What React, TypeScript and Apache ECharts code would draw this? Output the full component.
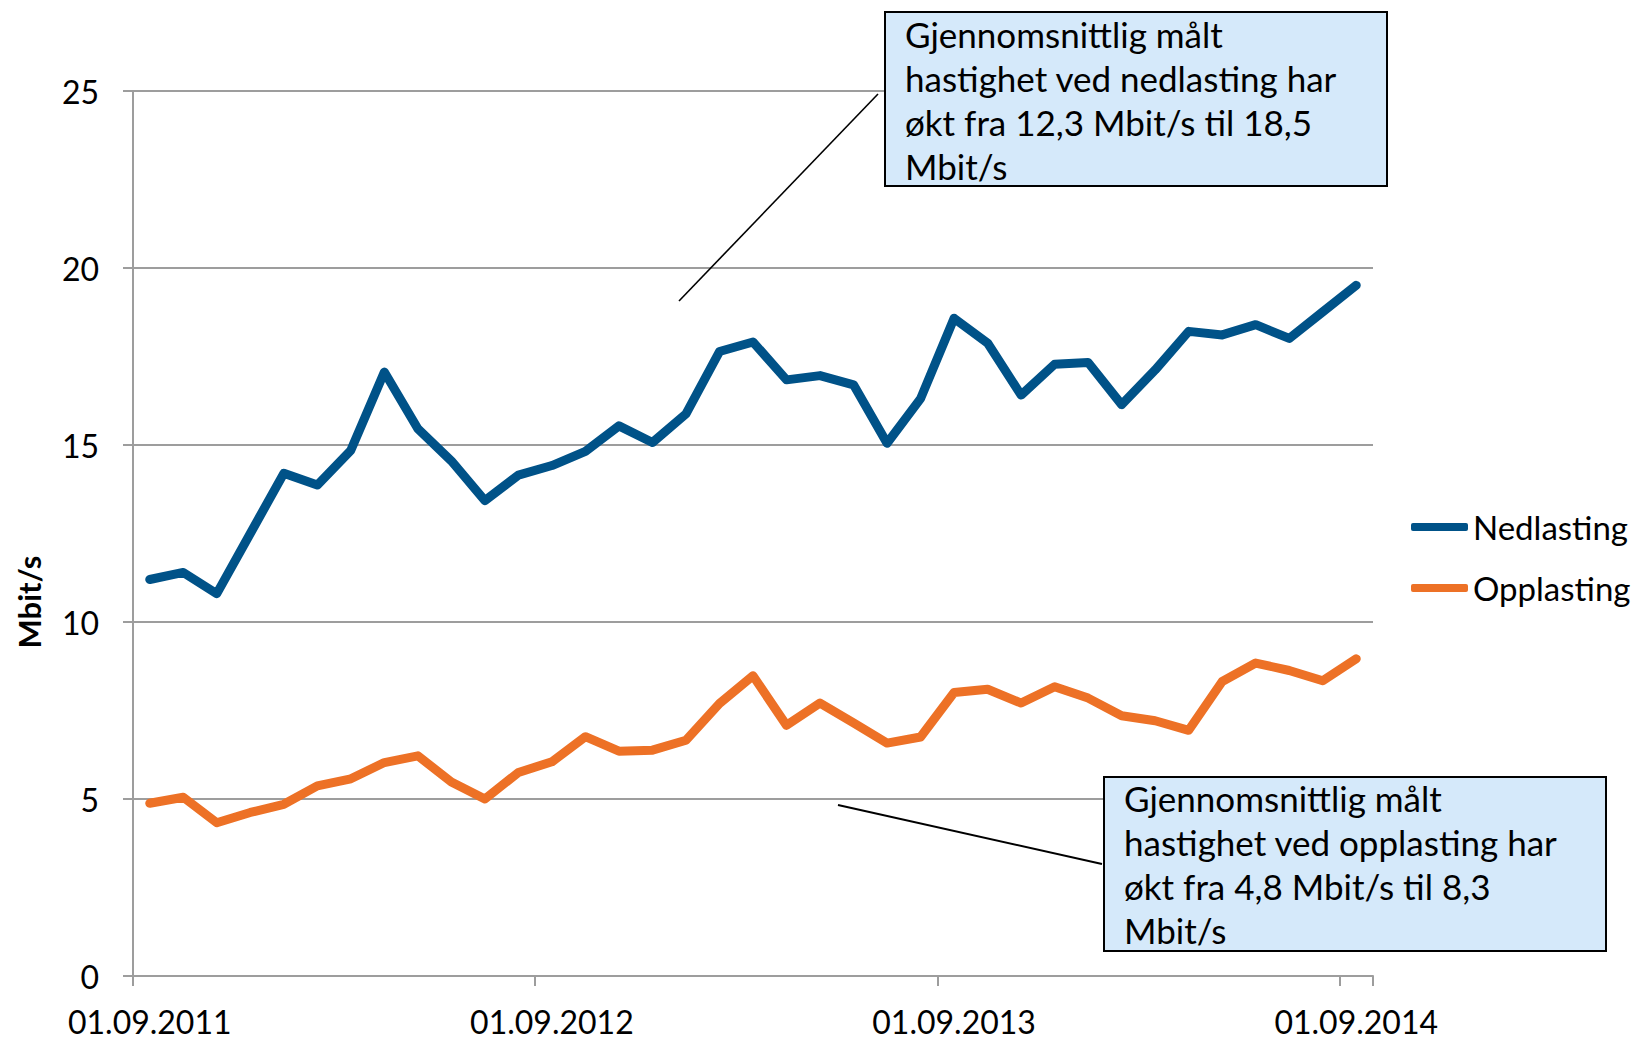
import React, { useEffect, useRef } from "react";
import * as echarts from "echarts";

const categories = [
  "01.09.2011", "01.10.2011", "01.11.2011", "01.12.2011",
  "01.01.2012", "01.02.2012", "01.03.2012", "01.04.2012", "01.05.2012", "01.06.2012",
  "01.07.2012", "01.08.2012", "01.09.2012", "01.10.2012", "01.11.2012", "01.12.2012",
  "01.01.2013", "01.02.2013", "01.03.2013", "01.04.2013", "01.05.2013", "01.06.2013",
  "01.07.2013", "01.08.2013", "01.09.2013", "01.10.2013", "01.11.2013", "01.12.2013",
  "01.01.2014", "01.02.2014", "01.03.2014", "01.04.2014", "01.05.2014", "01.06.2014",
  "01.07.2014", "01.08.2014", "01.09.2014",
];

const nedlasting = [
  11.2, 11.4, 10.8, 12.5, 14.2, 13.87, 14.85, 17.06, 15.46, 14.55, 13.43, 14.15,
  14.42, 14.82, 15.54, 15.07, 15.88, 17.64, 17.91, 16.84, 16.96, 16.7, 15.05, 16.31,
  18.58, 17.88, 16.41, 17.28, 17.33, 16.14, 17.12, 18.21, 18.11, 18.4, 18.01, 18.76,
  19.51,
];

const opplasting = [
  4.88, 5.05, 4.33, 4.62, 4.85, 5.37, 5.57, 6.03, 6.22, 5.48, 5.0, 5.75,
  6.05, 6.76, 6.35, 6.38, 6.66, 7.7, 8.48, 7.08, 7.71, 7.15, 6.58, 6.75,
  8.01, 8.1, 7.71, 8.17, 7.85, 7.35, 7.21, 6.94, 8.32, 8.84, 8.63, 8.34,
  8.96,
];

const seriesNames = ["Nedlasting", "Opplasting"];
const yTitle = "Mbit/s";
const noteDown = "Gjennomsnittlig målt\nhastighet ved nedlasting har\nøkt fra 12,3 Mbit/s til 18,5\nMbit/s";
const noteUp = "Gjennomsnittlig målt\nhastighet ved opplasting har\nøkt fra 4,8 Mbit/s til 8,3\nMbit/s";

const FONT = "Lato";
const BLUE = "#005288";
const ORANGE = "#ED7126";
const GRID = "#9D9D9D";

export default function App() {
  const ref = useRef<HTMLDivElement>(null);

  useEffect(() => {
    document.body.style.margin = "0";
    if (!ref.current) return;
    const chart = echarts.init(ref.current, undefined, { renderer: "svg" });
    chart.setOption({
      animation: false,
      backgroundColor: "#fff",
      grid: { left: 133, right: 269, top: 91, bottom: 64 },
      xAxis: {
        type: "category",
        data: categories,
        boundaryGap: true,
        axisLine: { show: true, lineStyle: { color: GRID, width: 2 } },
        axisTick: { show: true, interval: 11, length: 10, lineStyle: { color: GRID, width: 2 } },
        axisLabel: { interval: 11, fontSize: 32, fontFamily: FONT, color: "#000", margin: 29 },
        splitLine: { show: false },
      },
      yAxis: {
        type: "value",
        min: 0,
        max: 25,
        interval: 5,
        axisLine: { show: true, lineStyle: { color: GRID, width: 2 } },
        axisTick: { show: true, length: 10, lineStyle: { color: GRID, width: 2 } },
        axisLabel: { fontSize: 32, fontFamily: FONT, color: "#000", margin: 34 },
        splitLine: { show: true, lineStyle: { color: GRID, width: 2 } },
      },
      legend: {
        data: seriesNames,
        orient: "vertical",
        left: 1406,
        top: 502,
        itemWidth: 57,
        itemHeight: 8,
        itemGap: 21,
        icon: "roundRect",
        textStyle: { fontSize: 33, fontFamily: FONT, color: "#000", lineHeight: 40 },
      },
      series: [
        {
          name: seriesNames[0],
          type: "line",
          data: nedlasting,
          symbol: "none",
          itemStyle: { color: BLUE },
          lineStyle: { color: BLUE, width: 9, cap: "round", join: "round" },
        },
        {
          name: seriesNames[1],
          type: "line",
          data: opplasting,
          symbol: "none",
          itemStyle: { color: ORANGE },
          lineStyle: { color: ORANGE, width: 9, cap: "round", join: "round" },
        },
      ],
      graphic: {
        z: 100,
        elements: [
          {
            type: "text",
            z: 100,
            x: 29,
            y: 602,
            rotation: Math.PI / 2,
            style: {
              text: yTitle,
              font: `bold 31px ${FONT}`,
              fill: "#000",
              textAlign: "center",
              textVerticalAlign: "middle",
              align: "center",
              verticalAlign: "middle",
            },
          },
          {
            type: "line",
            z: 100,
            shape: { x1: 878, y1: 94, x2: 679, y2: 301 },
            style: { stroke: "#000", lineWidth: 1.6 },
          },
          {
            type: "rect",
            z: 101,
            shape: { x: 885, y: 12, width: 502, height: 174 },
            style: { fill: "#D5E9FA", stroke: "#000", lineWidth: 2 },
          },
          {
            type: "text",
            z: 102,
            x: 905,
            y: 12,
            style: {
              text: noteDown,
              font: `35px ${FONT}`,
              fill: "#000",
              lineHeight: 44,
              textAlign: "left",
              textVerticalAlign: "top",
              align: "left",
              verticalAlign: "top",
            },
          },
          {
            type: "line",
            z: 100,
            shape: { x1: 1102, y1: 864, x2: 838, y2: 805 },
            style: { stroke: "#000", lineWidth: 2 },
          },
          {
            type: "rect",
            z: 101,
            shape: { x: 1104, y: 777, width: 502, height: 174 },
            style: { fill: "#D5E9FA", stroke: "#000", lineWidth: 2 },
          },
          {
            type: "text",
            z: 102,
            x: 1124,
            y: 776,
            style: {
              text: noteUp,
              font: `35px ${FONT}`,
              fill: "#000",
              lineHeight: 44,
              textAlign: "left",
              textVerticalAlign: "top",
              align: "left",
              verticalAlign: "top",
            },
          },
        ],
      },
    });
    return () => chart.dispose();
  }, []);

  return <div ref={ref} style={{ width: 1642, height: 1040 }} />;
}
